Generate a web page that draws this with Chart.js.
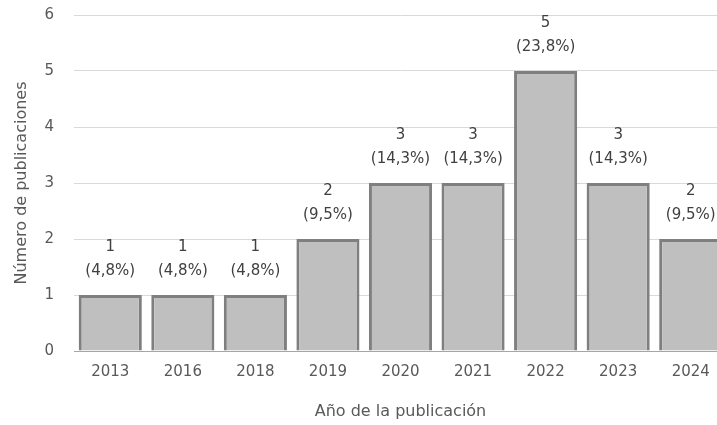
<!DOCTYPE html>
<html>
<head>
<meta charset="utf-8">
<script src="https://cdn.jsdelivr.net/npm/chart.js@4.4.1/dist/chart.umd.min.js"></script>
<style>
  html, body { margin:0; padding:0; background:#fff; overflow:hidden; }
  #wrap { width:717px; height:425px; overflow:hidden; }
  #box { width:727px; height:425px; position:relative; }
</style>
</head>
<body>
<div id="wrap"><div id="box"><canvas id="chart"></canvas></div></div>
<script>
const years = ['2013','2016','2018','2019','2020','2021','2022','2023','2024'];
const counts = [1, 1, 1, 2, 3, 3, 5, 3, 2];
const percents = ['4,8%','4,8%','4,8%','9,5%','14,3%','14,3%','23,8%','14,3%','9,5%'];
const yTicks = [0, 1, 2, 3, 4, 5, 6];

const FONT = "'DejaVu Sans', sans-serif";
const TEXT = '#595959';

// labels above each bar: count on one line, percent below
const barLabels = {
  id: 'barLabels',
  afterDatasetsDraw(chart){
    const ctx = chart.ctx;
    const meta = chart.getDatasetMeta(0);
    ctx.save();
    ctx.font = '15px ' + FONT;
    ctx.fillStyle = '#404040';
    ctx.textAlign = 'center';
    ctx.textBaseline = 'middle';
    meta.data.forEach((bar, i) => {
      ctx.fillText('(' + percents[i] + ')', bar.x, bar.y - 24);
      ctx.fillText(String(counts[i]), bar.x, bar.y - 48);
    });
    ctx.restore();
  }
};

new Chart(document.getElementById('chart'), {
  type: 'bar',
  data: {
    labels: years,
    datasets: [{
      data: counts,
      backgroundColor: '#bfbfbf',
      borderColor: '#7f7f7f',
      borderWidth: 3,
      categoryPercentage: 0.87,
      barPercentage: 1
    }]
  },
  options: {
    responsive: true,
    maintainAspectRatio: false,
    animation: false,
    layout: { padding: { top: 15, right: 0, left: 0, bottom: 0 } },
    plugins: { legend: { display: false }, tooltip: { enabled: false } },
    scales: {
      x: {
        grid: { display: false },
        border: { display: true, color: '#a6a6a6', width: 1 },
        ticks: { color: TEXT, font: { family: FONT, size: 15 }, padding: 4 },
        title: { display: true, text: 'Año de la publicación', color: TEXT, font: { family: FONT, size: 16 }, padding: { top: 4 } },
        afterFit(scale){ scale.height = 74; scale.paddingLeft = 0; scale.paddingRight = 0; }
      },
      y: {
        min: yTicks[0],
        max: yTicks[yTicks.length - 1],
        afterBuildTicks(scale){ scale.ticks = yTicks.map(v => ({ value: v })); },
        grid: { color: '#d9d9d9', drawTicks: false },
        border: { display: false },
        ticks: { color: TEXT, font: { family: FONT, size: 15 }, padding: 20 },
        title: { display: true, text: 'Número de publicaciones', color: TEXT, font: { family: FONT, size: 16 }, padding: { top: 12, bottom: 4 } },
        afterFit(scale){ scale.width = 74; scale.paddingTop = 0; scale.paddingBottom = 0; }
      }
    }
  },
  plugins: [barLabels]
});
</script>
</body>
</html>
